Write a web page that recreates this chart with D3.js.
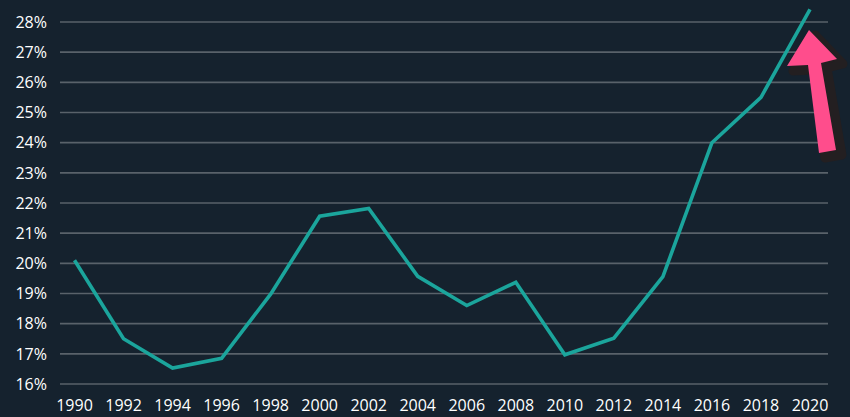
<!DOCTYPE html>
<html>
<head>
<meta charset="utf-8">
<script src="https://cdn.jsdelivr.net/npm/d3@7"></script>
<style>
  html, body { margin: 0; padding: 0; background: #15222e; }
  svg { display: block; }
  text { font-family: "Open Sans", "Noto Sans", sans-serif; fill: #ffffff; }
</style>
</head>
<body>
<svg id="chart"></svg>
<script>
const years = [1990, 1992, 1994, 1996, 1998, 2000, 2002, 2004, 2006, 2008, 2010, 2012, 2014, 2016, 2018, 2020];
const share = [20.1, 17.5, 16.53, 16.85, 18.98, 21.56, 21.82, 19.57, 18.6, 19.37, 16.97, 17.52, 19.56, 24.0, 25.5, 28.42];
const yTicks = [16, 17, 18, 19, 20, 21, 22, 23, 24, 25, 26, 27, 28];
const xTicks = [1990, 1992, 1994, 1996, 1998, 2000, 2002, 2004, 2006, 2008, 2010, 2012, 2014, 2016, 2018, 2020];

const width = 850, height = 417;
const gridLeft = 60, gridRight = 828;

const svg = d3.select('#chart')
  .attr('width', width)
  .attr('height', height);

svg.append('rect')
  .attr('width', width)
  .attr('height', height)
  .attr('fill', '#15222e');

const x = d3.scaleLinear()
  .domain([1990, 2020])
  .range([74.5, 810]);

const y = d3.scaleLinear()
  .domain([16, 28])
  .range([384, 22]);

// horizontal grid
svg.selectAll('.grid')
  .data(yTicks)
  .enter()
  .append('line')
  .attr('class', 'grid')
  .attr('x1', gridLeft)
  .attr('x2', gridRight)
  .attr('y1', d => y(d))
  .attr('y2', d => y(d))
  .attr('stroke', '#59626a')
  .attr('stroke-width', 1.6);

// y labels
svg.selectAll('.ylab')
  .data(yTicks)
  .enter()
  .append('text')
  .attr('class', 'ylab')
  .attr('x', 47)
  .attr('y', d => y(d))
  .attr('dy', '0.36em')
  .attr('text-anchor', 'end')
  .attr('font-size', 16)
  .text(d => d + '%');

// x labels
svg.selectAll('.xlab')
  .data(xTicks)
  .enter()
  .append('text')
  .attr('class', 'xlab')
  .attr('x', d => x(d))
  .attr('y', 411)
  .attr('text-anchor', 'middle')
  .attr('font-size', 16)
  .text(d => d);

// line
const data = years.map((yr, i) => ({ year: yr, value: share[i] }));
svg.append('path')
  .datum(data)
  .attr('fill', 'none')
  .attr('stroke', '#1ba59c')
  .attr('stroke-width', 3.6)
  .attr('stroke-linejoin', 'miter')
  .attr('d', d3.line()
    .x(d => x(d.year))
    .y(d => y(d.value)));

// arrow annotation
const arrow = [
  [809, 30], [837, 59], [821, 63], [836, 150],
  [819, 153], [808, 65], [787, 66]
];
const arrowPath = 'M' + arrow.map(p => p.join(',')).join('L') + 'Z';

svg.append('path')
  .attr('d', arrowPath)
  .attr('transform', 'translate(6,5)')
  .attr('fill', '#231f21')
  .attr('stroke', '#231f21')
  .attr('stroke-width', 9)
  .attr('stroke-linejoin', 'round');

svg.append('path')
  .attr('d', arrowPath)
  .attr('fill', '#ff4d8c');
</script>
</body>
</html>
